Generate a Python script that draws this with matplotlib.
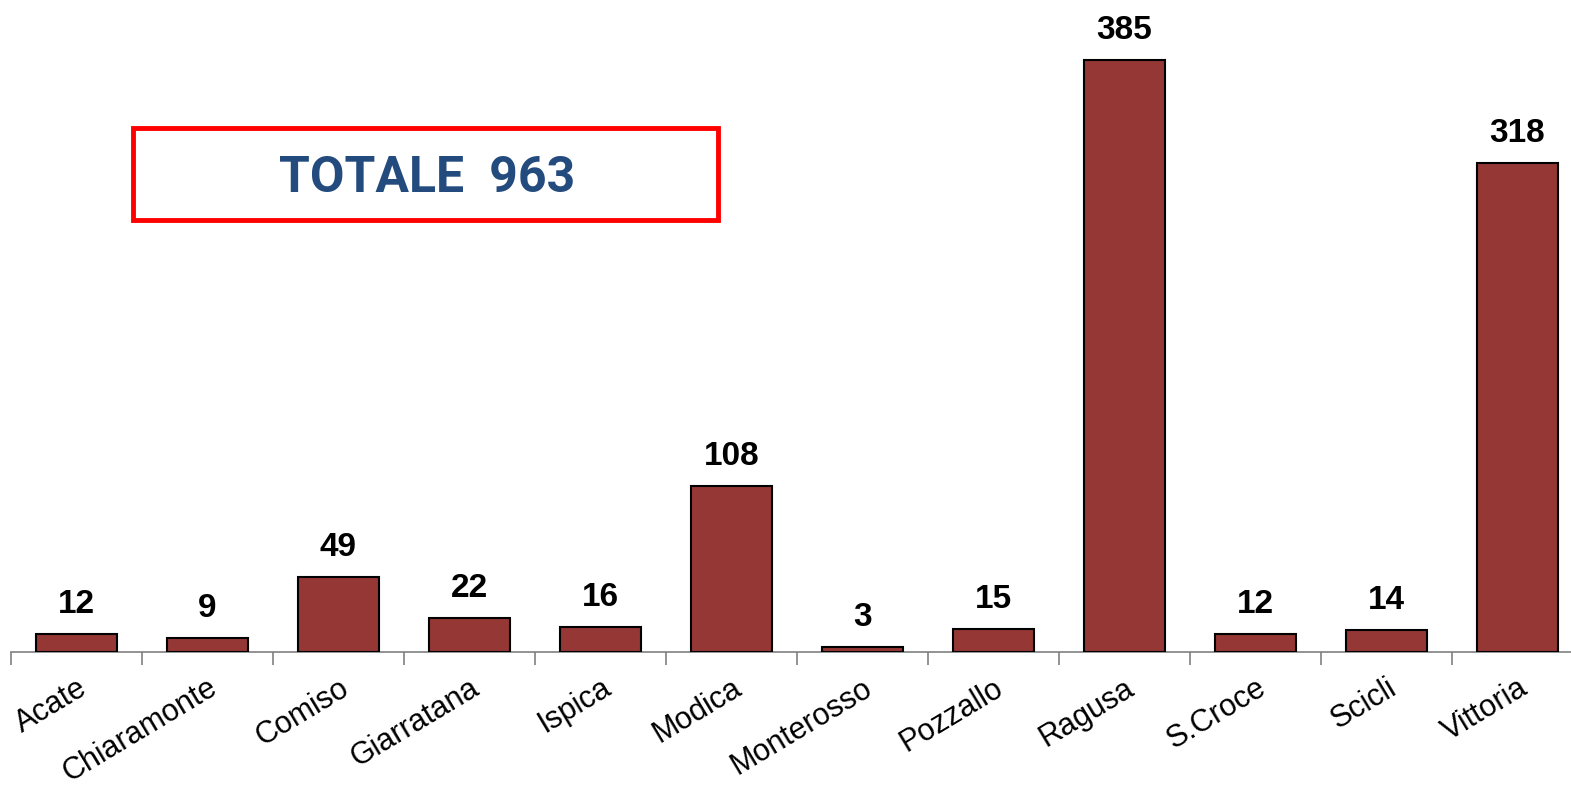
import matplotlib
matplotlib.use("Agg")
import matplotlib.pyplot as plt
import numpy as np
from matplotlib.patches import Rectangle

comuni = ["Acate", "Chiaramonte", "Comiso", "Giarratana", "Ispica", "Modica",
          "Monterosso", "Pozzallo", "Ragusa", "S.Croce", "Scicli", "Vittoria"]
valori = [12, 9, 49, 22, 16, 108, 3, 15, 385, 12, 14, 318]
totale_label = "TOTALE  963"

plt.rcParams["font.family"] = ["Liberation Sans", "DejaVu Sans"]

W, H = 1571, 786
fig = plt.figure(figsize=(W / 100, H / 100), dpi=100)
# axes spans 11..1583 px horizontally, baseline at y=652 px
ax = fig.add_axes([11 / W, 1 - 652 / H, 1572 / W, 652 / H])

x = np.arange(len(comuni))
ax.bar(x, valori, width=0.62, color="#953735", edgecolor="black", linewidth=1.5, zorder=3)
ax.set_xlim(-0.5, len(comuni) - 0.5)
ax.set_ylim(0, 652 / 1.538)

for xi, v in zip(x, valori):
    ax.annotate(str(v), (xi, v), xytext=(0, 21), textcoords="offset pixels",
                ha="center", va="baseline", fontsize=24, fontweight="bold", color="black")

for s in ["top", "right", "left"]:
    ax.spines[s].set_visible(False)
ax.spines["bottom"].set_color("#808080")
ax.spines["bottom"].set_linewidth(1.2)
ax.set_yticks([])

ax.set_xticks(x)
ax.set_xticklabels(comuni, rotation=31, ha="right", rotation_mode="anchor", fontsize=22)
ax.tick_params(axis="x", which="major", length=0, pad=15)
ax.set_xticks(np.arange(len(comuni) + 1) - 0.5, minor=True)
ax.tick_params(axis="x", which="minor", length=9, width=1.2, color="#808080", direction="out")

# total box
fig.patches.append(Rectangle((133 / W, 1 - 220 / H), 585 / W, 92 / H, transform=fig.transFigure,
                             fill=False, edgecolor="#FF0000", linewidth=3.5))
fig.text((133 + 585 / 2 + 2) / W, 1 - 178 / H, totale_label, ha="center", va="center",
         fontsize=36, fontweight="bold", color="#244B7E", family=["Roboto", "DejaVu Sans"])

fig.savefig("out.png", dpi=100)
